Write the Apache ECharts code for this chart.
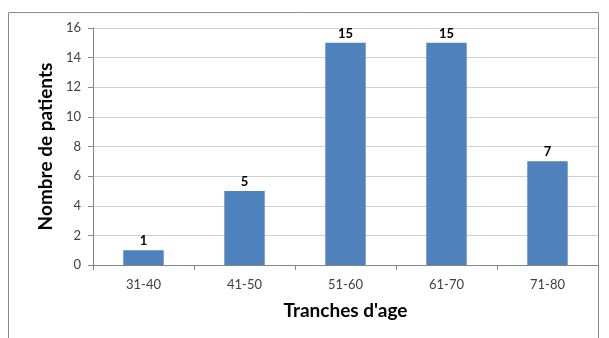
<!DOCTYPE html>
<html><head><meta charset="utf-8">
<script src="https://cdn.jsdelivr.net/npm/echarts@6/dist/echarts.min.js"></script>
<style>html,body{margin:0;padding:0;background:#fff}#c{width:609px;height:338px}</style>
</head><body><div id="c"></div>
<script>
const categories = ['31-40','41-50','51-60','61-70','71-80'];
const patients = [1, 5, 15, 15, 7];
const yTicks = {min: 0, max: 16, interval: 2};
const xTitle = "Tranches d'age";
const yTitle = 'Nombre de patients';

const chart = echarts.init(document.getElementById('c'), null, {renderer: 'canvas'});
const font = 'Lato, "Open Sans", sans-serif';
chart.setOption({
  animation: false,
  backgroundColor: '#fff',
  graphic: [{type: 'rect', shape: {x: 8.5, y: 12.5, width: 590, height: 340}, style: {fill: 'none', stroke: '#8c8c8c', lineWidth: 1}, silent: true, z: -1}],
  grid: {left: 93, right: 11, top: 28, bottom: 73},
  xAxis: {
    type: 'category', data: categories,
    name: xTitle, nameLocation: 'middle', nameGap: 36,
    nameTextStyle: {fontFamily: font, fontSize: 19, fontWeight: 'bold', color: '#000'},
    axisLine: {lineStyle: {color: '#868686'}},
    axisTick: {show: true, alignWithLabel: false, length: 5, lineStyle: {color: '#868686'}},
    axisLabel: {fontFamily: font, fontSize: 13, color: '#404040', margin: 13}
  },
  yAxis: {
    type: 'value', min: yTicks.min, max: yTicks.max, interval: yTicks.interval,
    name: yTitle, nameLocation: 'middle', nameGap: 34,
    nameTextStyle: {fontFamily: font, fontSize: 19, fontWeight: 'bold', color: '#000'},
    axisLine: {show: true, lineStyle: {color: '#868686'}},
    axisTick: {show: true, length: 5, lineStyle: {color: '#868686'}},
    axisLabel: {fontFamily: font, fontSize: 13, color: '#404040', margin: 12},
    splitLine: {lineStyle: {color: '#d0d0d0'}}
  },
  series: [{
    type: 'bar', data: patients, barWidth: '40%',
    itemStyle: {color: '#4f81bd'},
    label: {show: true, position: 'top', distance: 3, fontFamily: font, fontSize: 13, fontWeight: 'bold', color: '#000'}
  }]
});
</script></body></html>
